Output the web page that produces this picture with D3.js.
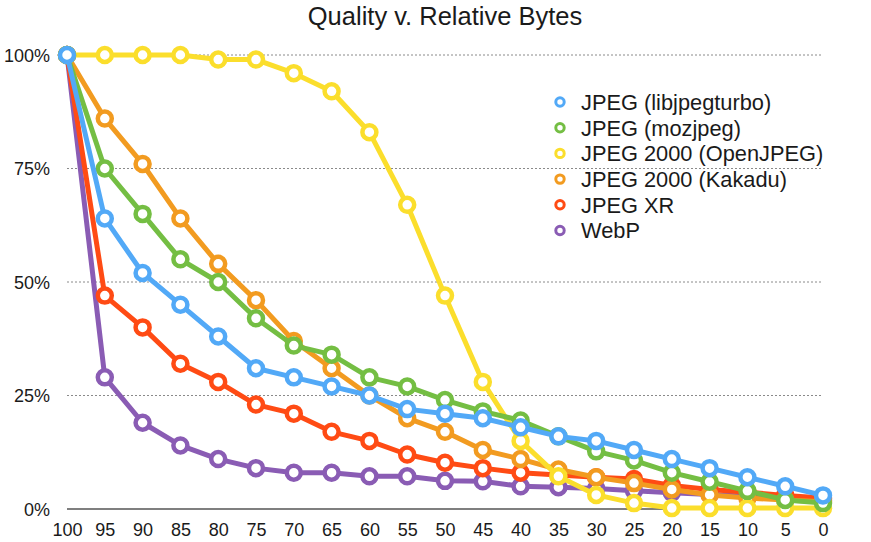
<!DOCTYPE html>
<html>
<head>
<meta charset="utf-8">
<script src="https://cdn.jsdelivr.net/npm/d3@7"></script>
<style>
  body { margin: 0; background: #fff; }
  svg { display: block; }
  text { font-family: "Helvetica Neue", "Liberation Sans", Arial, sans-serif; font-weight: normal; fill: #1a1a1a; }
</style>
</head>
<body>
<svg id="chart" width="871" height="542"></svg>
<script>
// ---- data ----
const qualities = [100, 95, 90, 85, 80, 75, 70, 65, 60, 55, 50, 45, 40, 35, 30, 25, 20, 15, 10, 5, 0];
const yTicks = [0, 25, 50, 75, 100];
const seriesNames = ["JPEG (libjpegturbo)", "JPEG (mozjpeg)", "JPEG 2000 (OpenJPEG)", "JPEG 2000 (Kakadu)", "JPEG XR", "WebP"];
const seriesColors = ["#52A9F7", "#74BE43", "#FBDE2C", "#F29B20", "#FF4B14", "#8A5CB4"];
const libjpegturbo = [100, 64, 52, 45, 38, 31, 29, 27, 25, 22, 21, 20, 18, 16, 15, 13, 11, 9, 7, 5, 3];
const mozjpeg      = [100, 75, 65, 55, 50, 42, 36, 34, 29, 27, 24, 21.5, 19.5, 16, 12.7, 10.7, 8, 6, 4, 2, 1.3];
const openjpeg     = [100, 100, 100, 100, 99, 99, 96, 92, 83, 67, 47, 28, 15, 7.2, 3.1, 1.3, 0.2, 0.2, 0.2, 0.2, 0.2];
const kakadu       = [100, 86, 76, 64, 54, 46, 37, 31, 25, 20, 17, 13, 11, 8.7, 7, 5.7, 4.3, 3.1, 2.4, 2, 1.6];
const jpegxr       = [100, 47, 40, 32, 28, 23, 21, 17, 15, 12, 10.2, 9, 8, 7.5, 7, 6.6, 5.2, 4.3, 3.7, 3, 2.4];
const webp         = [100, 29, 19, 14, 11, 9, 8, 8, 7.2, 7.2, 6.2, 6.1, 5, 4.8, 4.5, 4, 3.6, 3.2, 2.8, 2.5, 2];
const seriesValues = [libjpegturbo, mozjpeg, openjpeg, kakadu, jpegxr, webp];

// ---- layout ----
const svg = d3.select("#chart");
const x = d3.scalePoint().domain(qualities).range([67, 823]);
const y = d3.scaleLinear().domain([0, 100]).range([509, 55]);

// title
svg.append("text").attr("x", 445).attr("y", 25).attr("text-anchor", "middle")
  .style("font-size", "25.5px").text("Quality v. Relative Bytes");

// gridlines
svg.append("g").selectAll("line").data(yTicks.filter(d => d > 0)).join("line")
  .attr("x1", 67).attr("x2", 823).attr("y1", d => y(d)).attr("y2", d => y(d))
  .attr("stroke", "#8a8a8a").attr("stroke-width", 1).attr("stroke-dasharray", "2,2");

// y axis labels
const yAxis = d3.axisLeft(y).tickValues(yTicks).tickFormat(d => d + "%").tickSize(0).tickPadding(0);
const gy = svg.append("g").attr("transform", "translate(50,0)").call(yAxis);
gy.select(".domain").remove();
gy.selectAll("text").style("font-size", "18px").style("font-family", null).attr("fill", "#1a1a1a").attr("dy", "0.36em");

// x axis
const xAxis = d3.axisBottom(x).tickSize(0).tickPadding(0);
const gx = svg.append("g").attr("transform", "translate(0,509)").call(xAxis);
gx.select(".domain").remove();
gx.selectAll("text").style("font-size", "18px").style("font-family", null).attr("fill", "#1a1a1a").attr("y", 27).attr("dy", 0);
svg.append("line").attr("x1", 67).attr("x2", 823).attr("y1", 509).attr("y2", 509)
  .attr("stroke", "#000").attr("stroke-width", 1.2);

// series (drawn in reverse so first legend item is on top)
const line = d3.line().x((d, i) => x(qualities[i])).y(d => y(d));
const order = d3.range(seriesNames.length).reverse();
order.forEach(s => {
  const g = svg.append("g");
  g.append("path").datum(seriesValues[s]).attr("d", line)
    .attr("fill", "none").attr("stroke", seriesColors[s]).attr("stroke-width", 5)
    .attr("stroke-linejoin", "round");
  g.selectAll("circle").data(seriesValues[s]).join("circle")
    .attr("cx", (d, i) => x(qualities[i])).attr("cy", d => y(d)).attr("r", 7)
    .attr("fill", "#fff").attr("stroke", seriesColors[s]).attr("stroke-width", 4.5);
});

// legend
const legend = svg.append("g").selectAll("g").data(seriesNames).join("g")
  .attr("transform", (d, i) => `translate(560,${102 + i * 25.7})`);
legend.append("circle").attr("r", 4.2).attr("fill", "#fff")
  .attr("stroke", (d, i) => seriesColors[i]).attr("stroke-width", 3);
legend.append("text").attr("x", 21).attr("dy", "0.36em").style("font-size", "21.8px").text(d => d);
</script>
</body>
</html>
